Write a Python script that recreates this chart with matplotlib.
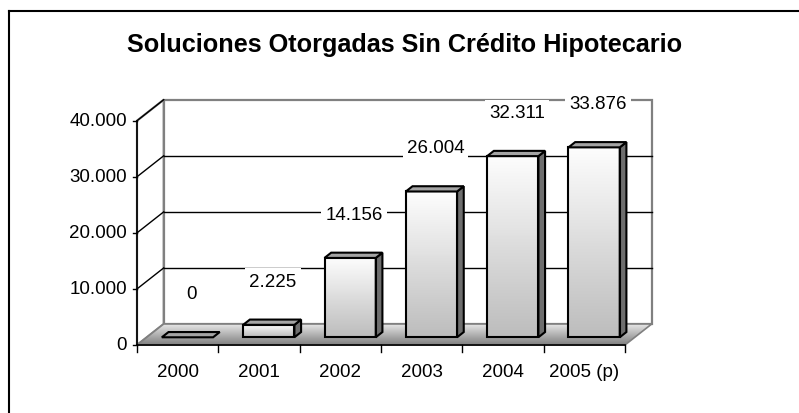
import matplotlib
matplotlib.use("Agg")
import matplotlib.pyplot as plt
import numpy as np
from matplotlib.patches import Polygon, Rectangle
from matplotlib.lines import Line2D

plt.rcParams['font.family'] = ['Liberation Sans', 'DejaVu Sans']

title = "Soluciones Otorgadas Sin Crédito Hipotecario"
years = ["2000", "2001", "2002", "2003", "2004", "2005 (p)"]
values = [0, 2225, 14156, 26004, 32311, 33876]
value_labels = ["0", "2.225", "14.156", "26.004", "32.311", "33.876"]
y_ticks = [0, 10000, 20000, 30000, 40000]
y_tick_labels = ["0", "10.000", "20.000", "30.000", "40.000"]

W, H = 799, 414
fig = plt.figure(figsize=(W / 100, H / 100), dpi=100)
ax = fig.add_axes([0, 0, 1, 1])
ax.axis("off")

# pixel layout of the front plane
x0_px, cat_px = 137, 81.33
y0_px, per_unit = 346, 0.005607
ax.set_xlim(-x0_px / cat_px, (W - x0_px) / cat_px)
ax.set_ylim((y0_px - H) / per_unit, y0_px / per_unit)

n = len(years)
ymax = y_ticks[-1]
ddx = 26.7 / cat_px          # depth offset in category units
ddy = 21.0 / per_unit        # depth offset in value units
grey = "#808080"
fs = 13.5


def grad(extent, top, bottom, clip=None, z=1):
    img = np.linspace(top, bottom, 64).reshape(-1, 1)
    im = ax.imshow(img, extent=extent, cmap="gray", vmin=0, vmax=1,
                   aspect="auto", origin="upper", zorder=z, interpolation="bilinear")
    if clip is not None:
        im.set_clip_path(clip)
    return im


# walls
back = Rectangle((ddx, ddy), n, ymax, facecolor="white", edgecolor=grey, lw=1.6, zorder=1)
ax.add_patch(back)
side = Polygon([(0, 0), (ddx, ddy), (ddx, ymax + ddy), (0, ymax)], closed=True,
               facecolor="white", edgecolor=grey, lw=1.6, zorder=1)
ax.add_patch(side)

# gridlines on back and side wall
for t in y_ticks[1:-1]:
    ax.plot([ddx, n + ddx], [t + ddy, t + ddy], color="black", lw=1, zorder=2)
for t in y_ticks[1:]:
    ax.plot([0, ddx], [t, t + ddy], color="black", lw=1, zorder=2)

# floor
floor = Polygon([(0, 0), (n, 0), (n + ddx, ddy), (ddx, ddy)], closed=True,
                facecolor="none", edgecolor=grey, lw=1.2, zorder=3)
ax.add_patch(floor)
grad([0, n + ddx, 0, ddy], 0.9, 0.5, clip=floor, z=2.5)

# bars
bw, z0, dz = 0.63, 0.367, 0.25
for i, v in enumerate(values):
    bx = i + (1 - bw) / 2 + z0 * ddx
    by = z0 * ddy
    yt = by + v
    if v > 0:
        front = Rectangle((bx, by), bw, v, facecolor="none", edgecolor="black", lw=1.5, zorder=6)
        ax.add_patch(front)
        grad([bx, bx + bw, by, yt], 0.99, 0.74, z=5)
        rs = Polygon([(bx + bw, by), (bx + bw + dz * ddx, by + dz * ddy),
                      (bx + bw + dz * ddx, yt + dz * ddy), (bx + bw, yt)], closed=True,
                     facecolor="#6e6e6e", edgecolor="black", lw=1.5, zorder=5)
        ax.add_patch(rs)
    top = Polygon([(bx, yt), (bx + bw, yt), (bx + bw + dz * ddx, yt + dz * ddy),
                   (bx + dz * ddx, yt + dz * ddy)], closed=True,
                  facecolor="#a4a4a4", edgecolor="black", lw=1.5, zorder=7)
    ax.add_patch(top)

    ax.text(i + 0.5 + 0.17, yt + 7800, value_labels[i], ha="center", va="center",
            fontsize=fs, zorder=8,
            bbox=dict(facecolor="white", edgecolor="none", pad=3))

# front axes
ax.plot([0, 0], [0, ymax], color="black", lw=1.2, zorder=4)
ax.plot([0, n], [0, 0], color="black", lw=1.2, zorder=4)
tick_dx = 4 / cat_px
tick_dy = 7 / per_unit
for t, lab in zip(y_ticks, y_tick_labels):
    ax.plot([-tick_dx, 0], [t, t], color="black", lw=1, zorder=4)
    ax.text(-tick_dx - 6 / cat_px, t, lab, ha="right", va="center", fontsize=fs)
for i in range(n + 1):
    ax.plot([i, i], [0, -tick_dy], color="black", lw=1, zorder=4)
for i, lab in enumerate(years):
    ax.text(i + 0.5, -27 / per_unit, lab, ha="center", va="center", fontsize=fs)

# title and outer frame
fig.text(405 / W, 1 - 45 / H, title, ha="center", va="center", fontsize=18.2, fontweight="bold")
fig.add_artist(Line2D([9 / W, 1], [1 - 12 / H, 1 - 12 / H], color="black", lw=1.5))
fig.add_artist(Line2D([9 / W, 9 / W], [0, 1 - 12 / H], color="black", lw=1.5))

fig.savefig("out.png", dpi=100)
